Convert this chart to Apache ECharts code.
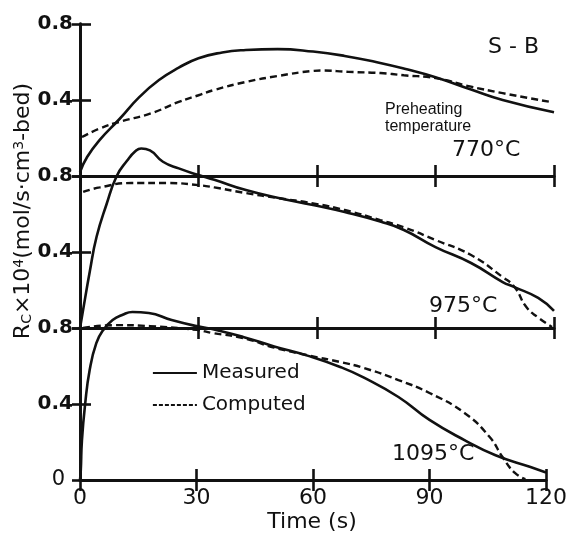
<!DOCTYPE html>
<html>
<head>
<meta charset="utf-8">
<script src="https://cdn.jsdelivr.net/npm/echarts@6/dist/echarts.min.js"></script>
<style>
  html, body { margin: 0; padding: 0; background: #fff; }
  #chart { width: 570px; height: 533px; }
</style>
</head>
<body>
<div id="chart"></div>
<script>
// time (s) vs Rc x 10^4, one pair of curves per preheating temperature
const xTicks = [0, 30, 60, 90, 120];
const yTicks = [0, 0.4, 0.8];
const panelLabels = ['770°C', '975°C', '1095°C'];

const measured770 = [[0, 0.02], [1.8, 0.10], [5, 0.19], [10, 0.30], [15, 0.415], [20, 0.505], [25, 0.57], [30, 0.62],
  [36, 0.65], [42, 0.663], [50, 0.668], [59, 0.655], [67, 0.632], [76, 0.595], [83, 0.56], [90, 0.52],
  [99, 0.455], [107, 0.40], [120, 0.335]];
const computed770 = [[0.5, 0.205], [5, 0.25], [10, 0.285], [18, 0.33], [25, 0.39], [30, 0.425], [34, 0.453],
  [42, 0.495], [50, 0.526], [59, 0.553], [61, 0.555], [68, 0.548], [76, 0.542], [82, 0.53], [90, 0.515],
  [99, 0.47], [107, 0.436], [119, 0.39]];

const measured975 = [[0, 0], [0.5, 0.06], [2.5, 0.30], [4.2, 0.48], [6.7, 0.65], [9.3, 0.80], [11.9, 0.88],
  [14, 0.93], [15.5, 0.945], [17.7, 0.935], [21, 0.875], [25, 0.84], [30, 0.805], [34, 0.78], [42, 0.726],
  [50, 0.686], [59, 0.647], [67, 0.61], [76, 0.56], [82, 0.516], [90, 0.426], [99, 0.342], [107, 0.242],
  [110, 0.215], [116, 0.158], [120, 0.09]];
const computed975 = [[0.8, 0.716], [5, 0.74], [13, 0.763], [22, 0.763], [30, 0.752], [34, 0.74], [42, 0.71],
  [50, 0.684], [59, 0.656], [67, 0.621], [76, 0.568], [82, 0.53], [90, 0.463], [99, 0.384], [107, 0.268],
  [110, 0.216], [113, 0.11], [116, 0.055], [119.5, 0.005]];

const measured1095 = [[0, 0], [0.2, 0.05], [0.5, 0.21], [1.3, 0.395], [2.5, 0.58], [4.2, 0.72], [6, 0.79],
  [8.4, 0.842], [11, 0.87], [13.5, 0.884], [17.7, 0.879], [23.6, 0.842], [30, 0.81], [34, 0.795], [42, 0.753],
  [50, 0.703], [59, 0.652], [67, 0.595], [73, 0.54], [82, 0.437], [90, 0.316], [99, 0.21], [107, 0.13],
  [116, 0.068], [120, 0.04]];
const computed1095 = [[0.8, 0.80], [9, 0.815], [18, 0.81], [30, 0.79], [34, 0.774], [42, 0.747], [50, 0.697],
  [59, 0.655], [67, 0.621], [73, 0.59], [82, 0.526], [90, 0.458], [99, 0.353], [105.5, 0.226], [108.8, 0.121],
  [112, 0.037], [114.7, 0.005]];

const measuredSets = [measured770, measured975, measured1095];
const computedSets = [computed770, computed975, computed1095];

const chart = echarts.init(document.getElementById('chart'));
const font = 'DejaVu Sans';
const black = '#111';

const panelTops = [24, 176, 328];
const grids = panelTops.map(t => ({ left: 80, width: 474, top: t, height: 152 }));

const axisLine = { show: true, lineStyle: { color: black, width: 2.8 } };
const tick = { show: true, inside: true, length: 11, lineStyle: { color: black, width: 2.6 } };

const xAxes = [];
const yAxes = [];
const series = [];
for (let i = 0; i < 3; i++) {
  const last = i === 2;
  xAxes.push({
    gridIndex: i, type: 'value', position: 'bottom', min: xTicks[0], max: xTicks[xTicks.length - 1], interval: 30,
    axisLine: axisLine, axisTick: tick, splitLine: { show: false },
    axisLabel: { show: last, color: black, fontFamily: font, fontSize: 22, margin: 7 }
  });
  xAxes.push({
    gridIndex: i, type: 'value', position: 'top', min: 0, max: 120, interval: 30,
    axisLine: axisLine, axisTick: tick, splitLine: { show: false }, axisLabel: { show: false }
  });
  yAxes.push({
    gridIndex: i, type: 'value', position: 'left', min: yTicks[0], max: yTicks[2], interval: 0.4,
    axisLine: axisLine, axisTick: tick, splitLine: { show: false },
    axisLabel: {
      color: black, fontFamily: font, fontSize: 20, fontWeight: 'bold', margin: 7,
      formatter: v => v === 0 ? (last ? '{z|0}' : '') : String(v),
      rich: { z: { fontFamily: font, fontSize: 21, fontWeight: 'normal', color: black, padding: [0, 8, 0, 0] } }
    }
  });
  yAxes.push({
    gridIndex: i, type: 'value', position: 'right', min: 0, max: 0.8, interval: 0.4,
    axisLine: axisLine, axisTick: Object.assign({}, tick, { length: 8 }), splitLine: { show: false },
    axisLabel: { show: false }
  });
  series.push({
    name: 'Measured', type: 'line', xAxisIndex: 2 * i, yAxisIndex: 2 * i,
    data: measuredSets[i], symbol: 'none', clip: false, smooth: 0.5,
    lineStyle: { color: black, width: 2.6 }, itemStyle: { color: black }
  });
  series.push({
    name: 'Computed', type: 'line', xAxisIndex: 2 * i, yAxisIndex: 2 * i,
    data: computedSets[i], symbol: 'none', clip: false, smooth: 0.5,
    lineStyle: { color: black, width: 2.4, type: [7, 4] }, itemStyle: { color: black }
  });
}

const txt = (x, y, text, size, extra) => ({
  type: 'text', x: x, y: y, silent: true,
  style: Object.assign({ text: text, fill: black, font: size + 'px "' + font + '"', align: 'left', verticalAlign: 'middle' }, extra || {})
});

chart.setOption({
  animation: false,
  grid: grids,
  xAxis: xAxes,
  yAxis: yAxes,
  series: series,
  legend: {
    data: [
      { name: 'Measured', lineStyle: { width: 1.8, type: 'solid' } },
      { name: 'Computed', lineStyle: { width: 1.8, type: [4, 2] } }
    ],
    orient: 'vertical', left: 147, top: 358,
    itemWidth: 44, itemHeight: 14, itemGap: 12,
    itemStyle: { opacity: 0 },
    textStyle: { color: black, fontFamily: font, fontSize: 20 }
  },
  graphic: [
    txt(488, 47, 'S - B', 22),
    txt(385, 110, 'Preheating', 16, { font: '16px "Liberation Sans"' }),
    txt(385, 127, 'temperature', 16, { font: '16px "Liberation Sans"' }),
    txt(452, 150, panelLabels[0], 22),
    txt(429, 306, panelLabels[1], 22),
    txt(392, 454, panelLabels[2], 22),
    txt(312, 522, 'Time (s)', 22, { align: 'center' }),
    {
      type: 'text', x: 23, y: 211, rotation: Math.PI / 2, silent: true,
      style: {
        text: 'R{sub|C}×10{sup|4}(mol/s·cm{sup|3}-bed)',
        fill: black, font: '22px "' + font + '"', align: 'center', verticalAlign: 'middle',
        rich: {
          sub: { fontSize: 14, fontFamily: font, fill: black, verticalAlign: 'bottom', padding: [8, 0, 0, 0] },
          sup: { fontSize: 14, fontFamily: font, fill: black, verticalAlign: 'top', padding: [0, 0, 8, 0] }
        }
      }
    }
  ]
});
</script>
</body>
</html>
